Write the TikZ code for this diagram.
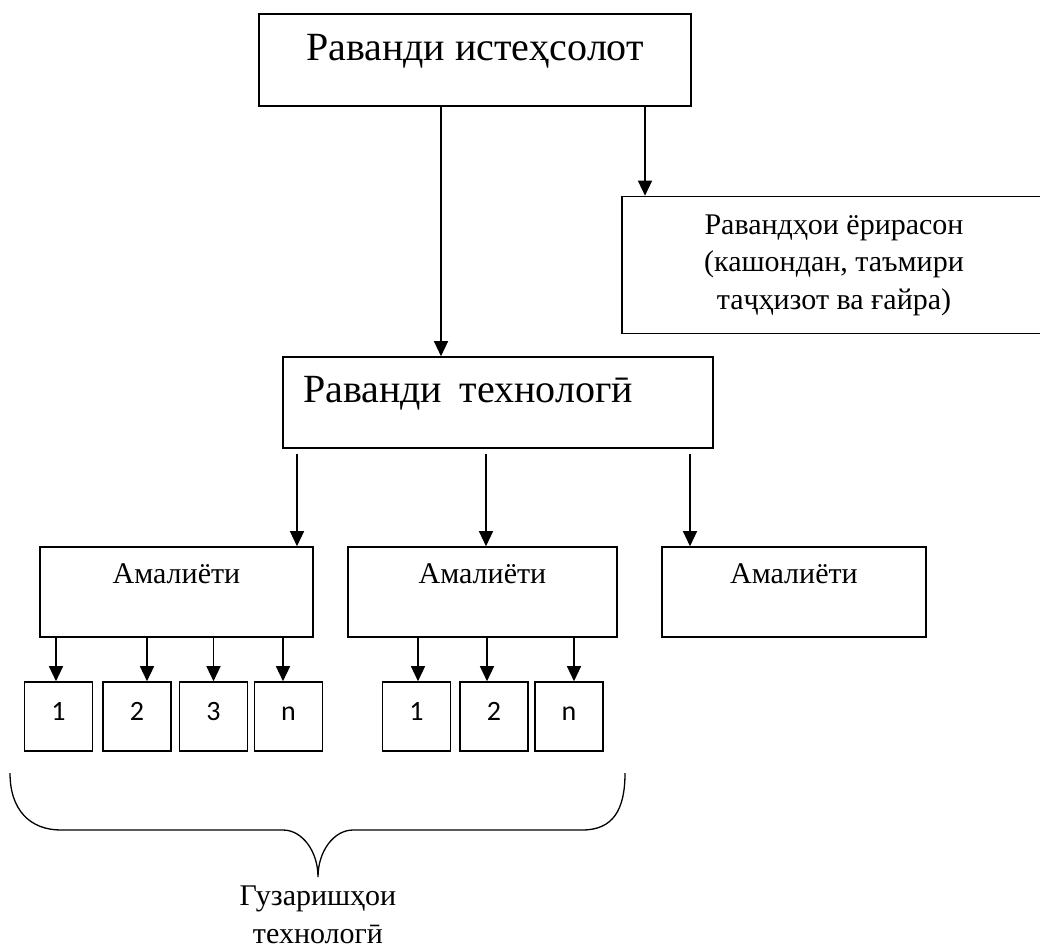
\documentclass[tikz,border=0pt]{standalone}
\usepackage{fontspec}
\setmainfont{Liberation Serif}
\newfontfamily\numfont{Carlito}
\usepackage{tikz}
\usetikzlibrary{arrows.meta, positioning, calc}
\tikzstyle{process} = [rectangle, draw=black, line width=1.6pt, inner sep=0pt, text centered]
\tikzstyle{bigtext} = [font=\fontsize{40}{48}\selectfont]
\tikzstyle{smalltext} = [font=\fontsize{30}{37.5}\selectfont]
\tikzstyle{operation} = [process, smalltext, minimum height=90pt, text height=36pt, text depth=54pt]
\tikzstyle{digitbox} = [rectangle, draw=black, line width=1.6pt, minimum width=68pt, minimum height=69pt, inner sep=0pt, text height=16pt, text depth=8pt, font=\numfont\fontsize{28}{32}\selectfont]
\tikzstyle{arrow} = [line width=1.3pt, -{Triangle[length=15pt, width=14pt]}]
\tikzstyle{brace} = [line width=1.3pt]

\begin{document}
\begin{tikzpicture}[x=1pt, y=-1pt]

		\useasboundingbox (0,0) rectangle (1040,948);

		% main boxes
		\node (pProduction)[process, bigtext, minimum width=432pt, text height=46pt, text depth=46pt] at (475,60) {Раванди истеҳсолот};

		\node (pAux)[process, smalltext, align=center, minimum width=424pt, minimum height=137pt] at (834,265) {Равандҳои ёрирасон\\(кашондан, таъмири\\таҷҳизот ва ғайра)};

		\node (pTech)[process, bigtext, align=left, text width=390pt, inner xsep=20pt, text height=45.5pt, text depth=45.5pt] at (498,402.5) {Раванди\ \hspace{4pt}технологӣ};

		% operations
		\node (opOne)[operation, minimum width=273pt] at (176.5,592) {Амалиёти};
		\node (opTwo)[operation, minimum width=269pt] at (482.5,592) {Амалиёти};
		\node (opThree)[operation, minimum width=264pt] at (794,592) {Амалиёти};

		% transitions
		\node (opOneS1)[digitbox] at (58.5,716.5) {1};
		\node (opOneS2)[digitbox] at (137,716.5) {2};
		\node (opOneS3)[digitbox] at (213.5,716.5) {3};
		\node (opOneSn)[digitbox] at (288.5,716.5) {n};

		\node (opTwoS1)[digitbox] at (416.5,716.5) {1};
		\node (opTwoS2)[digitbox] at (494,716.5) {2};
		\node (opTwoSn)[digitbox] at (569,716.5) {n};

		\node (gLabel)[smalltext, align=center, anchor=north, inner sep=0pt] at (318,886) {Гузаришҳои\\технологӣ};

		% lines and arrows
		\draw[arrow] ($(pProduction.south)+(-34,0)$) -- ($(pTech.north)+(-57,0)$);
		\draw[arrow] ($(pProduction.south)+(170,0)$) -- ($(pAux.north)+(-189,0)$);

		\draw[arrow, shorten <=5pt] ($(pTech.south)+(-201,0)$) -- ($(opOne.north)+(120.5,0)$);
		\draw[arrow, shorten <=5pt] ($(pTech.south)+(-12,0)$) -- ($(opTwo.north)+(3.5,0)$);
		\draw[arrow, shorten <=5pt] ($(pTech.south)+(192,0)$) -- ($(opThree.north)+(-104,0)$);

		\draw[arrow] ($(opOneS1.north |- opOne.south)+(-2.5,0)$) -- ($(opOneS1.north)+(-2.5,0)$);
		\draw[arrow] ($(opOneS2.north |- opOne.south)+(10,0)$) -- ($(opOneS2.north)+(10,0)$);
		\draw[arrow] (opOneS3.north |- opOne.south) -- (opOneS3.north);
		\draw[arrow] ($(opOneSn.north |- opOne.south)+(-5.5,0)$) -- ($(opOneSn.north)+(-5.5,0)$);

		\draw[arrow] ($(opTwoS1.north |- opTwo.south)+(1.5,0)$) -- ($(opTwoS1.north)+(1.5,0)$);
		\draw[arrow] ($(opTwoS2.north |- opTwo.south)+(-7,0)$) -- ($(opTwoS2.north)+(-7,0)$);
		\draw[arrow] ($(opTwoSn.north |- opTwo.south)+(5,0)$) -- ($(opTwoSn.north)+(5,0)$);

		% brace
		\draw[brace] (10,773) .. controls (10,810) and (30,830) .. (61,830) -- (283,830) .. controls (302,830) and (318,851) .. (318,877) .. controls (318,851) and (334,830) .. (353,830) -- (582,830) .. controls (613,830) and (625,810) .. (625,773);

	\end{tikzpicture}
\end{document}
